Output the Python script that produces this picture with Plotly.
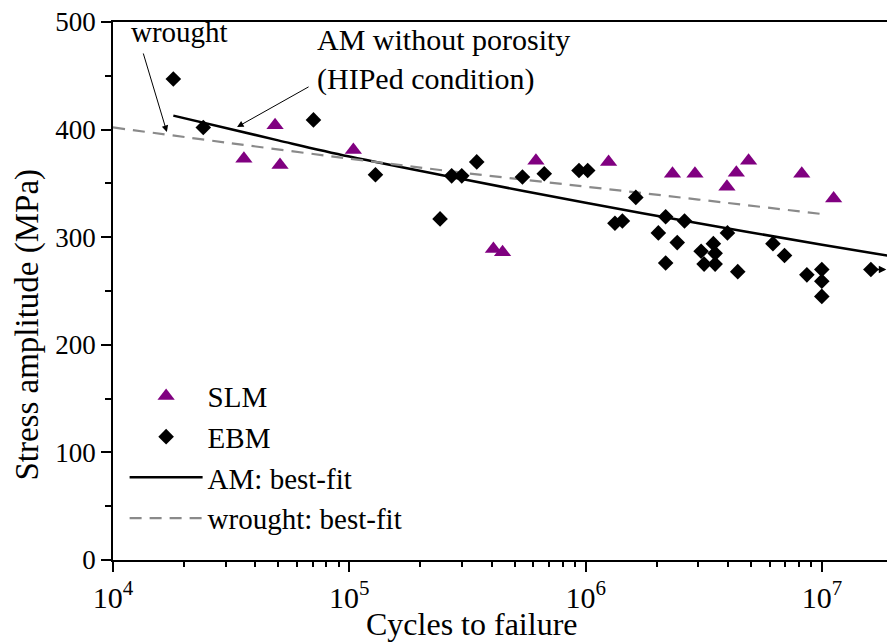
import math
import plotly.graph_objects as go

# ---- data ----
slm_cycles = [4.85e4, 3.58e4, 5.09e4, 1.04e5, 4.07e5, 4.45e5, 6.16e5, 1.25e6,
              2.33e6, 2.90e6, 3.96e6, 4.34e6, 4.89e6, 8.21e6, 1.12e7]
slm_stress = [404, 373, 367, 381, 289, 286, 371, 370,
              359, 359, 347, 360, 371, 359, 336]

ebm_cycles = [1.80e4, 2.41e4, 7.05e4, 1.29e5, 2.71e5, 2.99e5, 2.42e5, 3.46e5,
              5.40e5, 6.68e5, 9.37e5, 1.02e6, 1.63e6, 1.33e6, 1.43e6, 2.18e6,
              2.62e6, 2.03e6, 2.44e6, 2.18e6, 3.08e6, 3.47e6, 3.53e6, 3.17e6,
              3.53e6, 3.98e6, 4.40e6, 6.20e6, 6.94e6, 8.63e6, 9.98e6, 9.98e6,
              9.98e6, 1.61e7]
ebm_stress = [447, 402, 409, 358, 357, 357, 317, 370,
              356, 359, 362, 362, 337, 313, 315, 319,
              315, 304, 295, 276, 287, 294, 285, 275,
              275, 304, 268, 294, 283, 265, 270, 259,
              245, 270]

am_fit_cycles = [1.8e4, 5e4, 1e5, 3e5, 1e6, 3e6, 1e7, 2e7]
am_fit_stress = [413, 390, 375, 354, 332, 313, 293, 282]

wrought_fit_cycles = [1e4, 3e4, 1e5, 3e5, 1e6, 3e6, 1.05e7]
wrought_fit_stress = [402, 388, 373, 360, 347, 335, 321]

x_tick_vals = [1e4, 1e5, 1e6, 1e7]
x_tick_text = ["10<sup>4</sup>", "10<sup>5</sup>", "10<sup>6</sup>", "10<sup>7</sup>"]
x_minor_vals = [m * 10 ** e for e in range(4, 8) for m in range(2, 10)]

FONT = "Liberation Serif"

fig = go.Figure()

fig.add_trace(go.Scatter(
    x=am_fit_cycles, y=am_fit_stress, mode="lines", name="AM: best-fit",
    line=dict(color="black", width=2.5, shape="spline"), legendrank=3))
fig.add_trace(go.Scatter(
    x=wrought_fit_cycles, y=wrought_fit_stress, mode="lines", name="wrought: best-fit",
    line=dict(color="#8a8a8a", width=2.2, dash="12px,8px", shape="spline"), legendrank=4))
fig.add_trace(go.Scatter(
    x=slm_cycles, y=slm_stress, mode="markers", name="SLM",
    marker=dict(symbol="triangle-up", size=15, color="#800080"), legendrank=1))
fig.add_trace(go.Scatter(
    x=ebm_cycles, y=ebm_stress, mode="markers", name="EBM",
    marker=dict(symbol="diamond", size=12, color="black"), legendrank=2))

axis_common = dict(showline=True, linecolor="black", linewidth=1.5, ticks="outside",
                   tickcolor="black", tickwidth=1.5, ticklen=10, showgrid=False,
                   zeroline=False)

fig.update_xaxes(type="log", range=[4, 7.275], mirror=True,
                 tickvals=x_tick_vals, ticktext=x_tick_text,
                 tickfont=dict(family=FONT, size=30, color="black"),
                 minor=dict(ticks="outside", ticklen=5, tickwidth=1.5, tickcolor="black",
                            tickvals=x_minor_vals, showgrid=False),
                 **axis_common)
fig.update_yaxes(range=[0, 500], dtick=100,
                 tickfont=dict(family=FONT, size=27, color="black"),
                 minor=dict(ticks="outside", ticklen=6, tickwidth=1.5, tickcolor="black",
                            dtick=50, showgrid=False),
                 **axis_common)

annotations = [
    dict(text="Cycles to failure", xref="paper", yref="paper", x=0.4638, y=-0.119,
         xanchor="center", yanchor="middle", showarrow=False,
         font=dict(family=FONT, size=32, color="black")),
    dict(text="Stress amplitude (MPa)", xref="paper", yref="paper", x=-0.111, y=0.4377,
         xanchor="center", yanchor="middle", textangle=-90, showarrow=False,
         font=dict(family=FONT, size=33, color="black")),
    dict(text="wrought", xref="paper", yref="paper", x=0.021, y=0.981,
         xanchor="left", yanchor="middle", showarrow=False,
         font=dict(family=FONT, size=29, color="black")),
    dict(text="AM without porosity<br>(HIPed condition)", xref="paper", yref="paper",
         x=0.261, y=0.931, xanchor="left", yanchor="middle", align="left", showarrow=False,
         font=dict(family=FONT, size=30, color="black")),
    dict(text="", xref="x", yref="y", x=math.log10(1.69e4), y=397.8, ax=-24, ay=-80,
         showarrow=True, arrowhead=2, arrowsize=1.3, arrowwidth=1, arrowcolor="black"),
    dict(text="", xref="x", yref="y", x=math.log10(3.35e4), y=402.4, ax=73, ay=-41,
         showarrow=True, arrowhead=2, arrowsize=1.3, arrowwidth=1, arrowcolor="black"),
    dict(text="", xref="x", yref="y", x=7.272, y=270, ax=-12, ay=0,
         showarrow=True, arrowhead=2, arrowsize=1, arrowwidth=1.5, arrowcolor="black"),
]

fig.update_layout(
    width=887, height=643,
    margin=dict(l=113, r=0, t=22, b=83),
    plot_bgcolor="white", paper_bgcolor="white",
    font=dict(family=FONT, color="black"),
    annotations=annotations,
    showlegend=True,
    legend=dict(x=0.015, y=0.352, xanchor="left", yanchor="top",
                bgcolor="rgba(0,0,0,0)", itemwidth=73,
                font=dict(family=FONT, size=29, color="black"),
                tracegroupgap=0),
)

fig.write_html("out.html")
